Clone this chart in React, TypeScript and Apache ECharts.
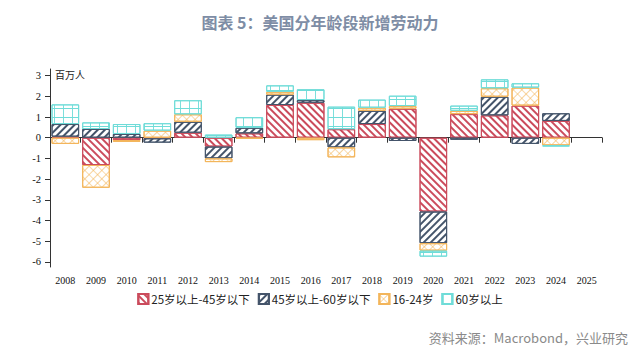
import React, { useEffect, useRef } from 'react';
import * as echarts from 'echarts';

const years = ['2008', '2009', '2010', '2011', '2012', '2013', '2014', '2015', '2016', '2017', '2018', '2019', '2020', '2021', '2022', '2023', '2024', '2025'];
const age25to45 = [0.05, -1.32, -0.12, -0.03, 0.24, -0.43, 0.21, 1.58, 1.69, 0.41, 0.66, 1.4, -3.57, 1.14, 1.08, 1.55, 0.81, null];
const age45to60 = [0.61, 0.42, 0.18, -0.21, 0.53, -0.57, 0.27, 0.5, 0.13, -0.47, 0.64, -0.16, -1.53, -0.1, 0.9, -0.3, 0.37, null];
const age16to24 = [-0.3, -1.1, -0.08, 0.34, 0.36, -0.18, -0.05, 0.14, -0.12, -0.48, 0.15, 0.13, -0.36, 0.16, 0.41, 0.87, -0.37, null];
const age60plus = [0.95, 0.32, 0.48, 0.36, 0.68, 0.15, 0.51, 0.31, 0.52, 1.09, 0.39, 0.5, -0.29, 0.25, 0.43, 0.21, -0.05, null];
const yTicks = [-6, -5, -4, -3, -2, -1, 0, 1, 2, 3];

const RED = '#CB4B5C';
const NAVY = '#44546A';
const ORANGE = '#F3B55A';
const CYAN = '#6FDCD8';

const FRAME = 'path://M0,0H10V1H1V10H0Z';

export default function App() {
  const ref = useRef<HTMLDivElement>(null);
  useEffect(() => {
    const chart = echarts.init(ref.current as HTMLDivElement, null, { renderer: 'svg' });
    const mk = (name: string, data: (number | null)[], color: string, decal: any) => ({
      name,
      type: 'bar',
      stack: 'total',
      data,
      barCategoryGap: '10%',
      itemStyle: { color: '#ffffff', borderColor: color, borderWidth: 1, decal },
    });
    chart.setOption({
      animation: false,
      title: {
        text: '图表 5：美国分年龄段新增劳动力',
        left: 'center',
        top: 9,
        textStyle: { fontSize: 16, fontWeight: 'bold', color: '#7E8DA5', fontFamily: 'Noto Sans CJK SC' },
      },
      graphic: [
        { type: 'text', left: 55, top: 69, style: { text: '百万人', fontSize: 10, fill: '#222', fontFamily: 'Noto Sans CJK SC' } },
        { type: 'text', right: 12, top: 331, style: { text: '资料来源：Macrobond，兴业研究', fontSize: 13, fill: '#8a8a8a', fontFamily: 'Noto Sans CJK SC' } },
      ],
      legend: {
        data: ['25岁以上-45岁以下', '45岁以上-60岁以下', '16-24岁', '60岁以上'],
        top: 288,
        left: 'center',
        icon: 'rect',
        itemWidth: 10,
        itemHeight: 10,
        itemGap: 8,
        textStyle: { fontSize: 11.5, color: '#222', fontFamily: 'Noto Sans CJK SC', padding: [0, 0, 0, -2] },
      },
      grid: { left: 50, right: 38, top: 69, bottom: 96 },
      xAxis: {
        type: 'category',
        data: years,
        axisLine: { lineStyle: { color: '#333' } },
        axisTick: { show: true, length: 5, interval: 0, lineStyle: { color: '#333' } },
        axisLabel: { interval: 0, fontSize: 10, color: '#111', fontFamily: 'Liberation Serif', margin: 8 },
      },
      yAxis: {
        type: 'value',
        min: -6.25,
        max: 3.32,
        axisLine: { show: true, lineStyle: { color: '#333' } },
        axisTick: { show: true, length: 5, customValues: yTicks, lineStyle: { color: '#333' } },
        axisLabel: { customValues: yTicks, fontSize: 10.5, color: '#111', fontFamily: 'Liberation Serif', margin: 9 },
        splitLine: { show: false },
      },
      series: [
        mk('25岁以上-45岁以下', age25to45, RED, { symbol: 'rect', symbolSize: 1, color: RED, dashArrayX: [1, 0], dashArrayY: [1.6, 2.4], rotation: Math.PI / 4 }),
        mk('45岁以上-60岁以下', age45to60, NAVY, { symbol: 'rect', symbolSize: 1, color: NAVY, dashArrayX: [1, 0], dashArrayY: [2, 3], rotation: -Math.PI / 4 }),
        mk('16-24岁', age16to24, ORANGE, { symbol: FRAME, symbolSize: 1, color: ORANGE, dashArrayX: [6, 0], dashArrayY: [6, 0], rotation: Math.PI / 4 }),
        mk('60岁以上', age60plus, CYAN, { symbol: FRAME, symbolSize: 1, color: CYAN, dashArrayX: [9, 0], dashArrayY: [9, 0], rotation: 0 }),
      ],
    });
    return () => chart.dispose();
  }, []);
  return <div ref={ref} style={{ position: 'fixed', left: 0, top: 0, width: 640, height: 363, background: '#fff' }} />;
}
